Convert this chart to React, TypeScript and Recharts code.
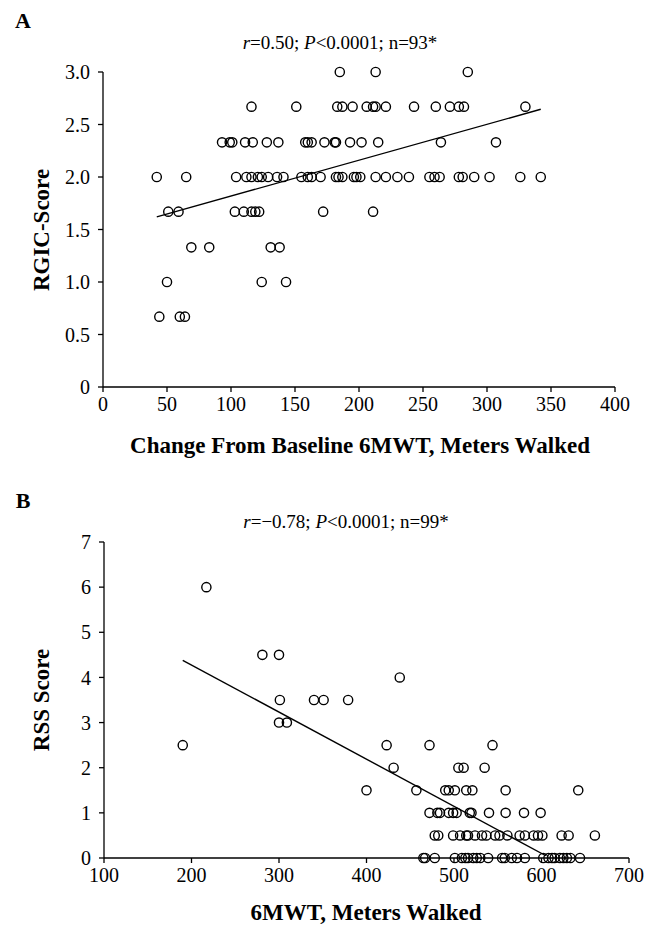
import { Scatter, ScatterChart, XAxis, YAxis } from 'recharts';

// Panel A: RGIC score (discrete levels) vs change from baseline 6MWT
const rgicLevels = [3, 2.67, 2.33, 2, 1.67, 1.33, 1, 0.67];
const rgicChange = [
  [185, 213, 285],
  [116, 151, 183, 187, 195, 206, 211, 213, 221, 243, 260, 271, 278, 282, 330],
  [93, 99, 101, 111, 117, 128, 137, 158, 160, 163, 173, 181, 182, 193, 202, 215, 264, 307],
  [42, 65, 104, 112, 116, 121, 124, 129, 136, 141, 155, 160, 163, 170, 182, 184, 187, 196, 198, 201, 213, 221, 230, 239, 255, 259, 263, 278, 281, 290, 302, 326, 342],
  [51, 59, 103, 110, 116, 119, 122, 172, 211],
  [69, 83, 131, 138],
  [50, 124, 143],
  [44, 60, 64],
];
const rgicFitX = [42, 342];
const rgicFitY = [1.62, 2.645];
const rgicXTicks = [0, 50, 100, 150, 200, 250, 300, 350, 400];
const rgicYTicks = [0, 0.5, 1, 1.5, 2, 2.5, 3];

// Panel B: RSS score vs 6MWT meters walked
const rssLevels = [6, 4.5, 4, 3.5, 3, 2.5, 2, 1.5, 1, 0.5, 0];
const rssWalk = [
  [217],
  [281, 300],
  [438],
  [301, 340, 351, 379],
  [300, 309],
  [190, 423, 472, 544],
  [431, 505, 511, 535],
  [400, 457, 490, 494, 501, 514, 521, 559, 642],
  [472, 481, 484, 494, 499, 503, 518, 520, 540, 559, 580, 599],
  [478, 482, 499, 507, 514, 516, 524, 532, 537, 547, 552, 561, 575, 581, 591, 596, 601, 623, 631, 661],
  [465, 467, 478, 501, 509, 513, 516, 522, 526, 530, 539, 555, 558, 566, 572, 581, 602, 608, 612, 615, 621, 625, 629, 633, 644],
];
const rssFitX = [190, 605];
const rssFitY = [4.38, 0.05];
const rssXTicks = [100, 200, 300, 400, 500, 600, 700];
const rssYTicks = [0, 1, 2, 3, 4, 5, 6, 7];

const FONT = '"Liberation Serif", "Times New Roman", serif';
const INK = '#000';

function toPoints(levels: number[], xs: number[][]) {
  return levels.flatMap((y, i) => xs[i].map((x) => ({ x, y })));
}
function toLine(xs: number[], ys: number[]) {
  return xs.map((x, i) => ({ x, y: ys[i] }));
}

const rgicPoints = toPoints(rgicLevels, rgicChange);
const rssPoints = toPoints(rssLevels, rssWalk);
const rgicFit = toLine(rgicFitX, rgicFitY);
const rssFit = toLine(rssFitX, rssFitY);

function Ring(props: { cx?: number; cy?: number }) {
  if (props.cx == null || props.cy == null) return null;
  return <circle cx={props.cx} cy={props.cy} r={4.6} fill="none" stroke={INK} strokeWidth={1.4} />;
}

const tick = { fontSize: 20, fill: INK, fontFamily: FONT };
const axisLine = { stroke: INK, strokeWidth: 1.3 };

function Text({ left, top, children, size = 19, bold = false, rotate = false }: {
  left: number; top: number; children: React.ReactNode; size?: number; bold?: boolean; rotate?: boolean;
}) {
  return (
    <div
      style={{
        position: 'absolute',
        left,
        top,
        transform: `translate(-50%, -50%)${rotate ? ' rotate(-90deg)' : ''}`,
        fontFamily: FONT,
        fontSize: size,
        fontWeight: bold ? 700 : 400,
        whiteSpace: 'nowrap',
        color: INK,
        lineHeight: 1,
      }}
    >
      {children}
    </div>
  );
}

export default function App() {
  return (
    <div style={{ position: 'absolute', left: 0, top: 0, width: 648, height: 930, background: '#fff' }}>
      <div style={{ position: 'absolute', left: 0, top: 0 }}>
        <ScatterChart width={648} height={470} margin={{ top: 72, right: 33, bottom: 53, left: 43 }}>
          <XAxis
            type="number"
            dataKey="x"
            domain={[0, 400]}
            ticks={rgicXTicks}
            tick={tick}
            tickSize={5}
            tickMargin={5}
            axisLine={axisLine}
            tickLine={axisLine}
            height={30}
          />
          <YAxis
            type="number"
            dataKey="y"
            domain={[0, 3]}
            ticks={rgicYTicks}
            tick={tick}
            tickSize={5}
            tickMargin={8}
            axisLine={axisLine}
            tickLine={axisLine}
            width={60}
            tickFormatter={(v: number) => (v === 0 ? '0' : v.toFixed(1))}
          />
          <Scatter data={rgicPoints} shape={<Ring />} isAnimationActive={false} />
          <Scatter data={rgicFit} line={{ stroke: INK, strokeWidth: 1.4 }} shape={() => null} isAnimationActive={false} />
        </ScatterChart>
      </div>
      <div style={{ position: 'absolute', left: 0, top: 470 }}>
        <ScatterChart width={648} height={460} margin={{ top: 72, right: 19, bottom: 42, left: 44 }}>
          <XAxis
            type="number"
            dataKey="x"
            domain={[100, 700]}
            ticks={rssXTicks}
            tick={tick}
            tickSize={5}
            tickMargin={5}
            axisLine={axisLine}
            tickLine={axisLine}
            height={30}
          />
          <YAxis
            type="number"
            dataKey="y"
            domain={[0, 7]}
            ticks={rssYTicks}
            tick={tick}
            tickSize={5}
            tickMargin={8}
            axisLine={axisLine}
            tickLine={axisLine}
            width={60}
          />
          <Scatter data={rssPoints} shape={<Ring />} isAnimationActive={false} />
          <Scatter data={rssFit} line={{ stroke: INK, strokeWidth: 1.4 }} shape={() => null} isAnimationActive={false} />
        </ScatterChart>
      </div>

      <Text left={23} top={21} size={22} bold>A</Text>
      <Text left={340} top={42}>
        <i>r</i>=0.50; <i>P</i>&lt;0.0001; n=93*
      </Text>
      <Text left={41} top={230} size={23} bold rotate>RGIC-Score</Text>
      <Text left={360} top={445} size={23} bold>Change From Baseline 6MWT, Meters Walked</Text>

      <Text left={23} top={501} size={22} bold>B</Text>
      <Text left={346} top={521}>
        <i>r</i>=−0.78; <i>P</i>&lt;0.0001; n=99*
      </Text>
      <Text left={41} top={700} size={23} bold rotate>RSS Score</Text>
      <Text left={366} top={912} size={23} bold>6MWT, Meters Walked</Text>
    </div>
  );
}
